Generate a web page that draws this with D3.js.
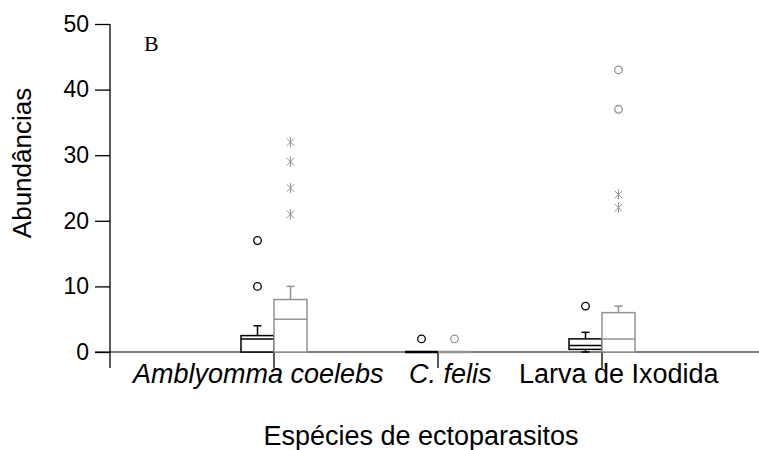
<!DOCTYPE html>
<html><head><meta charset="utf-8">
<script src="https://cdn.jsdelivr.net/npm/d3@7"></script>
<style>body{margin:0;background:#fff}svg{display:block}</style>
</head><body><svg id="c" width="759" height="450"></svg>
<script>
const categories = ["Amblyomma coelebs", "C. felis", "Larva de Ixodida"];
const categoryItalic = [true, true, false];
const yTicks = [0, 10, 20, 30, 40, 50];
// series 1 (black)
const s1Min = [0, 0, 0];
const s1Q1 = [0, 0, 0.4];
const s1Median = [2, 0, 1];
const s1Q3 = [2.5, 0, 2];
const s1Max = [4, 0, 3];
const s1Outliers = [[10, 17], [2], [7]];
const s1Extremes = [[], [], []];
// series 2 (gray)
const s2Min = [0, 0, 0];
const s2Q1 = [0, 0, 0];
const s2Median = [5, 0, 2];
const s2Q3 = [8, 0, 6];
const s2Max = [10, 0, 7];
const s2Outliers = [[], [2], [37, 43]];
const s2Extremes = [[21, 25, 29, 32], [], [22, 24]];

const svg = d3.select("#c");
const font = "'Liberation Sans', Arial, sans-serif";
const y = d3.scaleLinear().domain([0, 50]).range([352, 24]);
const x = d3.scaleLinear().domain([0, 4]).range([110, 766]);
const boxW = 33;

const series = [
  {color: "#000", off: -1, min: s1Min, q1: s1Q1, med: s1Median, q3: s1Q3, max: s1Max, out: s1Outliers, ext: s1Extremes},
  {color: "#939393", off: 1, min: s2Min, q1: s2Q1, med: s2Median, q3: s2Q3, max: s2Max, out: s2Outliers, ext: s2Extremes}
];

// x axis line
svg.append("line").attr("x1", 95).attr("x2", 759).attr("y1", y(0)).attr("y2", y(0))
  .attr("stroke", "#555").attr("stroke-width", 1.5);

// y axis
const yAxis = d3.axisLeft(y).tickValues(yTicks).tickSize(15).tickPadding(6);
const gy = svg.append("g").attr("transform", `translate(${x(0)},0)`).call(yAxis);
gy.select(".domain").remove();
gy.selectAll(".tick line").attr("stroke", "#000").attr("stroke-width", 1.3);
gy.selectAll(".tick text").attr("font-family", font).attr("font-size", 23).attr("fill", "#000");
svg.append("line").attr("x1", x(0)).attr("x2", x(0)).attr("y1", y(50)).attr("y2", 368)
  .attr("stroke", "#000").attr("stroke-width", 1.3);

// category ticks
categories.forEach((c, i) => {
  svg.append("line").attr("x1", x(i + 1)).attr("x2", x(i + 1)).attr("y1", y(0)).attr("y2", 368)
    .attr("stroke", "#000").attr("stroke-width", 1.3);
});

// boxes
series.forEach(s => {
  categories.forEach((c, i) => {
    const cx = x(i + 1) + s.off * boxW / 2;
    const g = svg.append("g").attr("stroke", s.color).attr("fill", "none").attr("stroke-width", 1.5);
    if (s.max[i] > s.q3[i]) {
      g.append("line").attr("x1", cx).attr("x2", cx).attr("y1", y(s.q3[i])).attr("y2", y(s.max[i]));
      g.append("line").attr("x1", cx - 4).attr("x2", cx + 4).attr("y1", y(s.max[i])).attr("y2", y(s.max[i]));
    }
    if (s.min[i] < s.q1[i]) {
      g.append("line").attr("x1", cx).attr("x2", cx).attr("y1", y(s.q1[i])).attr("y2", y(s.min[i]));
      g.append("line").attr("x1", cx - 4).attr("x2", cx + 4).attr("y1", y(s.min[i])).attr("y2", y(s.min[i]));
    }
    if (s.q3[i] > s.q1[i]) {
      g.append("rect").attr("x", cx - boxW / 2).attr("width", boxW)
        .attr("y", y(s.q3[i])).attr("height", y(s.q1[i]) - y(s.q3[i])).attr("fill", "#fff");
      g.append("line").attr("x1", cx - boxW / 2).attr("x2", cx + boxW / 2)
        .attr("y1", y(s.med[i])).attr("y2", y(s.med[i]));
    } else {
      g.append("line").attr("x1", cx - boxW / 2).attr("x2", cx + boxW / 2)
        .attr("y1", y(s.med[i])).attr("y2", y(s.med[i])).attr("stroke-width", 2.5);
    }
    s.out[i].forEach(v => {
      g.append("circle").attr("cx", cx).attr("cy", y(v)).attr("r", 3.8).attr("stroke-width", 1.3);
    });
    s.ext[i].forEach(v => {
      const r = 5;
      const p = g.append("g").attr("transform", `translate(${cx},${y(v)})`).attr("stroke-width", 1);
      p.append("line").attr("x1", 0).attr("x2", 0).attr("y1", -r).attr("y2", r);
      p.append("line").attr("x1", -r * 0.75).attr("x2", r * 0.75).attr("y1", -r * 0.75).attr("y2", r * 0.75);
      p.append("line").attr("x1", -r * 0.75).attr("x2", r * 0.75).attr("y1", r * 0.75).attr("y2", -r * 0.75);
    });
  });
});

// category labels
const labelDx = [-141, -29, -83];
categories.forEach((c, i) => {
  svg.append("text").attr("x", x(i + 1)).attr("dx", labelDx[i]).attr("y", 383)
    .attr("font-family", font).attr("font-size", 27)
    .attr("font-style", categoryItalic[i] ? "italic" : "normal")
    .attr("fill", "#000").text(c);
});

// axis titles
svg.append("text").attr("x", 421).attr("y", 445).attr("text-anchor", "middle")
  .attr("font-family", font).attr("font-size", 27).attr("fill", "#000").text("Espécies de ectoparasitos");
svg.append("text").attr("transform", "translate(31,163) rotate(-90)").attr("text-anchor", "middle")
  .attr("font-family", font).attr("font-size", 26).attr("fill", "#000").text("Abundâncias");
svg.append("text").attr("x", 144).attr("y", 51)
  .attr("font-family", "'Liberation Serif', 'Times New Roman', serif").attr("font-size", 22).attr("fill", "#000").text("B");
</script></body></html>
